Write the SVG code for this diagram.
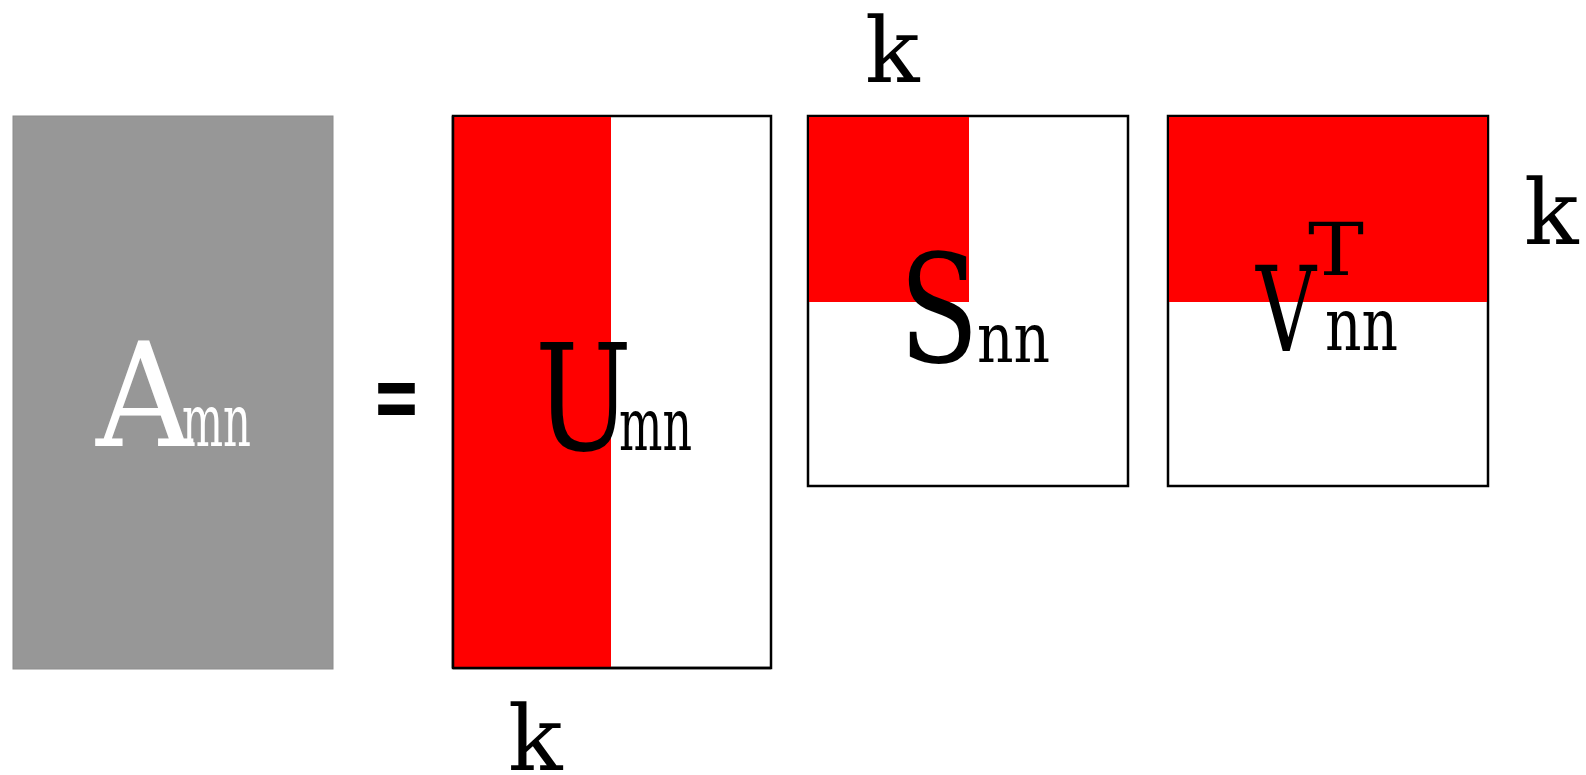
<svg xmlns="http://www.w3.org/2000/svg" width="1586" height="775" viewBox="0 0 1586 775">
<style>
text{font-family:"DejaVu Serif","Liberation Serif",serif;}
.box{fill:#fff;stroke:#000;stroke-width:2.5;}
.red{fill:#ff0000;}
.lbl{fill:#000;}
.k{font-size:90px;fill:#000;}
</style>
<rect width="1586" height="775" fill="#fff"/>
<g id="A">
<rect x="13" y="116" width="320" height="553" fill="#979797" stroke="#8c8c8c" stroke-width="1"/>
<text x="96" y="446" font-size="145" fill="#fff" textLength="96" lengthAdjust="spacingAndGlyphs">A</text>
<text x="182" y="446" font-size="72" fill="#fff" textLength="69" lengthAdjust="spacingAndGlyphs">mn</text>
</g>
<g id="eq">
<text x="372" y="429" font-size="95" class="lbl" font-family="Liberation Sans" textLength="49" lengthAdjust="spacingAndGlyphs" font-weight="bold">=</text>
</g>
<g id="U">
<rect class="box" x="453" y="116" width="318" height="552"/>
<rect class="red" x="454" y="117" width="157" height="552"/>
<line x1="453" y1="668" x2="771" y2="668" stroke="#000" stroke-width="2.5"/>
<line x1="453" y1="116" x2="453" y2="668" stroke="#000" stroke-width="2.5"/>
<text x="535" y="450" font-size="148" class="lbl" textLength="97" lengthAdjust="spacingAndGlyphs">U</text>
<text x="619" y="450" font-size="72" class="lbl" textLength="73" lengthAdjust="spacingAndGlyphs">mn</text>
<text x="508" y="770" class="k">k</text>
</g>
<g id="S">
<rect class="box" x="808" y="116" width="320" height="370"/>
<rect class="red" x="809" y="117" width="160" height="185"/>
<text x="899" y="362" font-size="150" class="lbl" textLength="80" lengthAdjust="spacingAndGlyphs">S</text>
<text x="977" y="362" font-size="70" class="lbl" textLength="73" lengthAdjust="spacingAndGlyphs">nn</text>
<text x="865" y="82" class="k">k</text>
</g>
<g id="V">
<rect class="box" x="1168" y="116" width="320" height="370"/>
<rect class="red" x="1169" y="117" width="318" height="185"/>
<text x="1256" y="351" font-size="118" class="lbl" textLength="60" lengthAdjust="spacingAndGlyphs">V</text>
<text x="1308" y="275" font-size="73" class="lbl" textLength="56" lengthAdjust="spacingAndGlyphs">T</text>
<text x="1325" y="350" font-size="72" class="lbl" textLength="73" lengthAdjust="spacingAndGlyphs">nn</text>
<text x="1524" y="244" class="k">k</text>
</g>
</svg>
